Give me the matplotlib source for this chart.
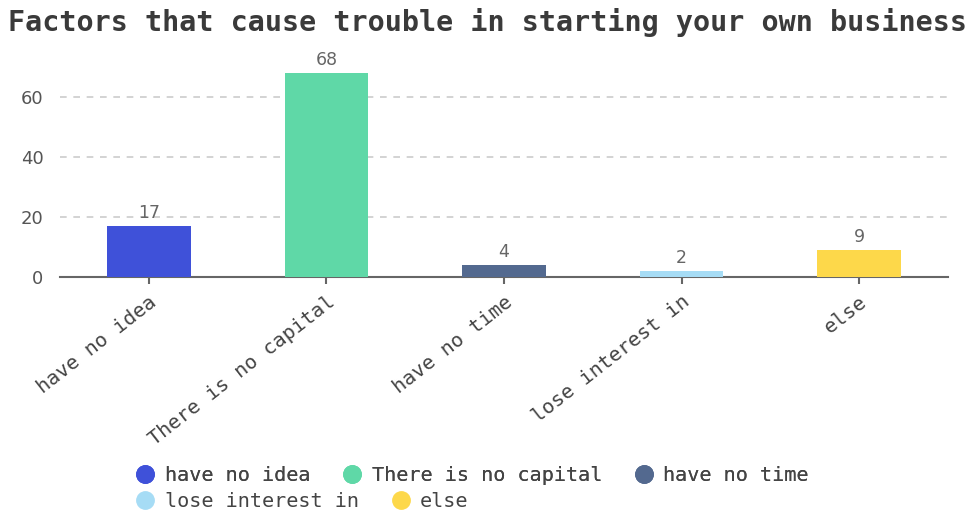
import matplotlib.pyplot as plt
from matplotlib.lines import Line2D

categories = ['have no idea', 'There is no capital', 'have no time', 'lose interest in', 'else']
values = [17, 68, 4, 2, 9]
colors = ['#3f51d9', '#5fd8a7', '#53698f', '#a6dcf5', '#fdd84a']
yticks = [0, 20, 40, 60]
title = 'Factors that cause trouble in starting your own business'

mono = 'DejaVu Sans Mono'

fig = plt.figure(figsize=(9.79, 5.11), dpi=100)
ax = fig.add_axes([0.0613, 0.458, 0.907, 0.411])

x = range(len(categories))
bars = ax.bar(x, values, width=0.47, color=colors, zorder=3)
for b, v in zip(bars, values):
    ax.text(b.get_x() + b.get_width() / 2, v + 1.3, str(v), ha='center', va='bottom',
            fontsize=12.5, color='#666666')

ax.set_xlim(-0.5, len(categories) - 0.5)
ax.set_ylim(0, 70)
ax.set_yticks(yticks)
ax.tick_params(axis='y', length=0, labelsize=13, labelcolor='#555555', pad=12)
ax.tick_params(axis='x', length=5, color='#666666', width=1.5, pad=6)
ax.set_xticks(list(x))
ax.set_xticklabels(categories, rotation=38, ha='right', rotation_mode='anchor',
                   fontsize=14.5, family=mono, color='#444444')
ax.yaxis.grid(True, linestyle=(0, (4, 4)), color='#cccccc', linewidth=1.2, zorder=0)
for s in ['top', 'right', 'left']:
    ax.spines[s].set_visible(False)
ax.spines['bottom'].set_color('#666666')
ax.spines['bottom'].set_linewidth(1.5)

fig.text(0.008, 0.955, title, fontsize=20.4, family=mono, fontweight='bold',
         color='#3a3a3a', va='center', ha='left')

handles = [Line2D([], [], marker='o', linestyle='', markersize=12.5, color=c) for c in colors]
leg_kw = dict(frameon=False, prop={'family': mono, 'size': 14.5}, labelcolor='#444444',
              handletextpad=0.45, columnspacing=1.6, handlelength=1.0, borderpad=0,
              loc='center left')
leg1 = fig.legend(handles[:3], categories[:3], ncol=3, bbox_to_anchor=(0.128, 0.07), **leg_kw)
fig.legend(handles[3:], categories[3:], ncol=2, bbox_to_anchor=(0.128, 0.019), **leg_kw)
fig.add_artist(leg1)

fig.savefig('out.png', dpi=100)
